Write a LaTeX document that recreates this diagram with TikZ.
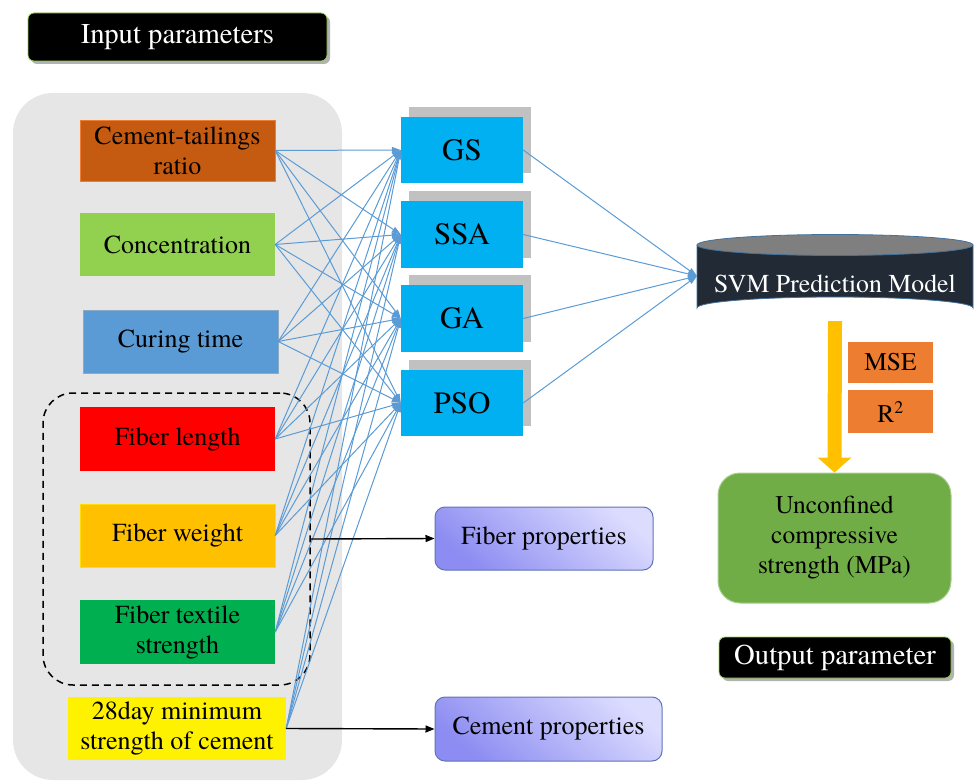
\documentclass[tikz,border=0pt]{standalone}
\usepackage{fontspec}
\setmainfont{TeX Gyre Termes}
\usetikzlibrary{arrows.meta,shadows,calc}
\definecolor{bgrey}{HTML}{E7E6E6}
\definecolor{cbrown}{HTML}{C55A11}
\definecolor{clgreen}{HTML}{92D050}
\definecolor{cblue}{HTML}{5B9BD5}
\definecolor{cgold}{HTML}{FFC000}
\definecolor{cgreen}{HTML}{00B050}
\definecolor{ccyan}{HTML}{00B0F0}
\definecolor{corange}{HTML}{ED7D31}
\definecolor{cucs}{HTML}{70AD47}
\definecolor{linec}{HTML}{5B9BD5}
\definecolor{svmbody}{HTML}{222A35}
\definecolor{svmtop}{HTML}{7F7F7F}
\definecolor{svmedge}{HTML}{41719C}
\definecolor{propA}{HTML}{DCDCFF}
\definecolor{propB}{HTML}{8C8CF2}
\definecolor{propedge}{HTML}{5F74B5}
\tikzset{
  inbox/.style={rectangle, minimum width=195, minimum height=63, align=center, inner sep=0pt,
    font=\fontsize{26}{30}\selectfont},
  methbox/.style={rectangle, fill=ccyan, minimum width=122, minimum height=66, inner sep=0pt,
    font=\fontsize{31}{36}\selectfont,
    drop shadow={shadow xshift=8pt, shadow yshift=10pt, fill=black!35, opacity=0.7}},
  blackbox/.style={rectangle, rounded corners=6, fill=black, draw=clgreen, line width=0.8,
    text=white, inner sep=0pt,
    drop shadow={shadow xshift=3pt, shadow yshift=-3pt, fill=black, opacity=0.3}},
  propbox/.style={rectangle, rounded corners=10, draw=propedge, line width=1,
    bottom color=propB, top color=propA, shading angle=-40, minimum height=63, inner sep=0pt,
    font=\fontsize{26}{30}\selectfont},
  orbox/.style={rectangle, fill=corange, minimum width=85, inner sep=0pt,
    font=\fontsize{25.5}{30}\selectfont},
  link/.style={draw=linec, line width=1, -{Triangle[length=9pt,width=6pt]}},
  blk/.style={draw=black, line width=1.4, -{Triangle[length=9pt,width=7pt]}},
}
\begin{document}
\begin{tikzpicture}[x=1pt,y=-1pt]
\useasboundingbox (0,0) rectangle (976,783);
% grey background
\fill[bgrey, rounded corners=40] (13,93) rectangle (342,780);

% input parameters label
\node[blackbox, minimum width=299, minimum height=48, font=\fontsize{28.7}{32}\selectfont] (inlab) at (177.5,37) {Input parameters};

% inputs
\node[inbox, fill=cbrown, draw=corange, minimum height=61] (ct) at (177.5,150.5) {Cement-tailings\\ratio};
\node[inbox, fill=clgreen] (conc) at (177.5,244.5) {Concentration};
\node[inbox, fill=cblue, draw=svmedge!60] (cure) at (180.5,341.5) {Curing time};
\node[inbox, fill=red, minimum height=64] (fl) at (177.5,439) {Fiber length};
\node[inbox, fill=cgold, draw=yellow!80!orange] (fw) at (177.5,535.5) {Fiber weight};
\node[inbox, fill=cgreen, minimum height=64] (fts) at (177.5,632) {Fiber textile\\strength};
\node[inbox, fill=yellow, minimum width=218] (day) at (177,728.5) {28day minimum\\strength of cement};

% dashed fibre group
\node[draw=black, dashed, line width=1.5, rounded corners=30, minimum width=267, minimum height=292, inner sep=0pt, dash pattern=on 7pt off 5pt] (grp) at (176.5,539) {};

% methods
\node[methbox] (gs) at (462,150) {GS};
\node[methbox, minimum height=67] (ssa) at (462,234.5) {SSA};
\node[methbox, minimum height=67] (ga) at (462,318.5) {GA};
\node[methbox] (pso) at (462,403) {PSO};

% links
\foreach \i in {ct,conc,cure,fl,fw,fts,day}{
  \foreach \m in {gs,ssa,ga,pso}{
    \draw[link] (\i.east) -- (\m.west);
  }
}

% SVM cylinder
\fill[svmbody, draw=svmedge, line width=0.8] (697,245) -- (697,308) arc[start angle=180, end angle=360, x radius=138, y radius=11] -- (973,245) -- cycle;
\fill[svmtop, draw=svmedge, line width=0.8] (835,245) ellipse[x radius=138, y radius=10.5];
\node[minimum width=276, minimum height=74, inner sep=0pt, text=white, font=\fontsize{25.8}{28}\selectfont, text depth=0pt] (svm) at (835,284) {SVM Prediction Model};
\coordinate (svmin) at (697,276);
\foreach \m in {gs,ssa,ga,pso}{
  \draw[link] (\m.east) -- (svmin);
}

% outputs
\node[rectangle, rounded corners=22, fill=cucs, draw=cucs!60!white, line width=1, minimum width=233, minimum height=130, align=center, inner sep=0pt, font=\fontsize{25.5}{30}\selectfont] (ucs) at (834.5,538) {Unconfined\\compressive\\strength (MPa)};
\fill[cgold] ($(svm.south)+(-7,0)$) -- ($(ucs.north)+(-7,-15)$) -- ($(ucs.north)+(-17,-15)$) -- (ucs.north) -- ($(ucs.north)+(17,-15)$) -- ($(ucs.north)+(7,-15)$) -- ($(svm.south)+(7,0)$) -- cycle;
\node[orbox, minimum height=41] (mse) at (890.5,362.5) {MSE};
\node[orbox, minimum height=43] (r2) at (890.5,411.5) {R\textsuperscript{2}};
\node[blackbox, minimum width=232, minimum height=41, font=\fontsize{28.7}{32}\selectfont] (outlab) at (835,657.5) {Output parameter};

% properties
\node[propbox, minimum width=218] (fp) at (544,538.5) {Fiber properties};
\node[propbox, minimum width=227, minimum height=64] (cp) at (548.5,729) {Cement properties};
\draw[blk] (grp.east) -- (fp.west);
\draw[blk] (day.east) -- (cp.west);
\end{tikzpicture}
\end{document}
